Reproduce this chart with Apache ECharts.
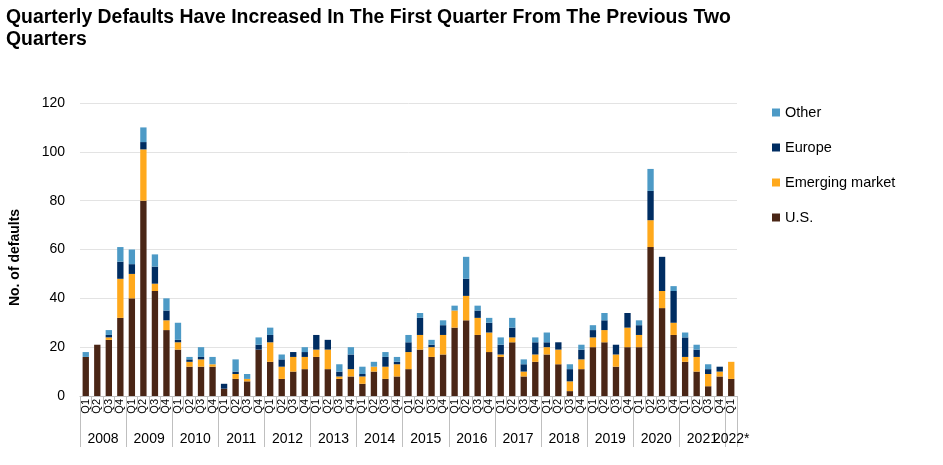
<!DOCTYPE html>
<html>
<head>
<meta charset="utf-8">
<script src="https://cdn.jsdelivr.net/npm/echarts@6/dist/echarts.min.js"></script>
<style>
html,body{margin:0;padding:0;background:#fff;}
#chart{width:943px;height:465px;}
</style>
</head>
<body>
<div id="chart"></div>
<script>
const years = ['2008','2009','2010','2011','2012','2013','2014','2015','2016','2017','2018','2019','2020','2021','2022*'];
const quarters = ['Q1','Q2','Q3','Q4'];
const yTicks = [0, 20, 40, 60, 80, 100, 120];

const usVals    = [16,21,23,32, 40,80,43,27, 19,12,12,12, 3,7,6,19, 14,7,10,11, 16,11,7,8, 5,10,7,8, 11,19,16,17, 28,31,25,18, 16,22,8,14, 17,13,2,11, 20,22,12,20, 20,61,36,25, 14,10,4,8, 7];
const emVals    = [0,0,1,16, 10,21,3,4, 3,2,3,1, 0,2,1,0, 8,5,6,5, 3,8,1,3, 3,2,5,5, 7,6,4,8, 7,10,7,8, 1,2,2,3, 3,6,4,4, 4,5,5,8, 5,11,7,5, 2,6,5,2, 7];
const euVals    = [0,0,1,7, 4,3,7,4, 1,1,1,0, 2,1,0,2, 3,3,2,2, 6,4,2,6, 1,0,4,1, 4,7,1,4, 0,7,3,4, 4,4,3,5, 2,3,5,4, 3,4,4,6, 4,12,14,13, 8,3,2,2, 0];
const otherVals = [2,0,2,6, 6,6,5,5, 7,1,4,3, 0,5,2,3, 3,2,0,2, 0,0,3,3, 3,2,2,2, 3,2,2,2, 2,9,2,2, 3,4,2,2, 4,0,2,2, 2,3,0,0, 2,9,0,2, 2,2,2,0, 0];

// categories: year|quarter (2022 has only Q1)
const categories = [];
years.forEach(function (y) {
  const qs = (y === '2022*') ? ['Q1'] : quarters;
  qs.forEach(function (q) { categories.push(y + '|' + q); });
});
const lastIdx = categories.length - 1;

const FONT = '"Liberation Sans", Arial, sans-serif';
const chart = echarts.init(document.getElementById('chart'));

const mkSeries = function (name, data, color) {
  return {
    name: name, type: 'bar', stack: 'total', data: data,
    barWidth: '55%', itemStyle: { color: color }, emphasis: { disabled: true }
  };
};

chart.setOption({
  animation: false,
  textStyle: { fontFamily: FONT },
  title: {
    text: 'Quarterly Defaults Have Increased In The First Quarter From The Previous Two\nQuarters',
    left: 1, top: 2,
    textStyle: { fontFamily: FONT, fontSize: 19.4, fontWeight: 'bold', color: '#000', lineHeight: 22 }
  },
  legend: {
    orient: 'vertical', left: 767, top: 100,
    itemWidth: 8, itemHeight: 8, itemGap: 20, icon: 'rect',
    data: ['Other', 'Europe', 'Emerging market', 'U.S.'],
    textStyle: { fontFamily: FONT, fontSize: 14.5, color: '#000' }
  },
  grid: { left: 79, right: 206, top: 103, bottom: 69, containLabel: false },
  yAxis: {
    type: 'value', min: yTicks[0], max: yTicks[yTicks.length - 1], interval: 20,
    name: 'No. of defaults', nameLocation: 'middle', nameGap: 58,
    nameTextStyle: { fontFamily: FONT, fontSize: 14, fontWeight: 'bold', color: '#000', padding: [0, 16, 0, 0] },
    axisLine: { show: false }, axisTick: { show: false },
    axisLabel: { fontFamily: FONT, fontSize: 14, color: '#000', margin: 15 },
    splitLine: { lineStyle: { color: '#e3e3e3', width: 1 } }
  },
  xAxis: [
    {
      type: 'category', data: categories, position: 'bottom',
      axisLine: { lineStyle: { color: '#bfbfbf', width: 1 } },
      axisTick: { show: true, interval: 0, length: 16, lineStyle: { color: '#bfbfbf' } },
      axisLabel: {
        interval: 0, rotate: 90, margin: 3, fontSize: 11, color: '#000', fontFamily: FONT,
        formatter: function (v) { return v.split('|')[1]; }
      }
    },
    {
      type: 'category', data: categories, position: 'bottom',
      axisLine: { show: false },
      axisTick: {
        show: true, length: 51, lineStyle: { color: '#bfbfbf' },
        interval: function (i) { return i % 4 === 0; }
      },
      axisLabel: {
        margin: 36, color: '#000', fontFamily: FONT, fontSize: 14,
        hideOverlap: false,
        interval: function (i) { return i % 4 === 1 && i < lastIdx; },
        formatter: function (v) { return '{s|' + v.split('|')[0] + '}'; },
        rich: {
          s: { fontSize: 14, fontFamily: FONT, color: '#000', padding: [0, 0, 0, 11.5] }
        }
      }
    },
    {
      type: 'category', data: categories, position: 'bottom',
      axisLine: { show: false }, axisTick: { show: false },
      axisLabel: {
        margin: 36, color: '#000', fontFamily: FONT, fontSize: 14,
        hideOverlap: false, showMaxLabel: true,
        interval: function (i) { return i === lastIdx; },
        formatter: function (v) { return v.split('|')[0]; }
      }
    }
  ],
  series: [
    mkSeries('U.S.', usVals, '#4a2616'),
    mkSeries('Emerging market', emVals, '#ffa91c'),
    mkSeries('Europe', euVals, '#002d62'),
    mkSeries('Other', otherVals, '#4d9ac6')
  ]
});
</script>
</body>
</html>
